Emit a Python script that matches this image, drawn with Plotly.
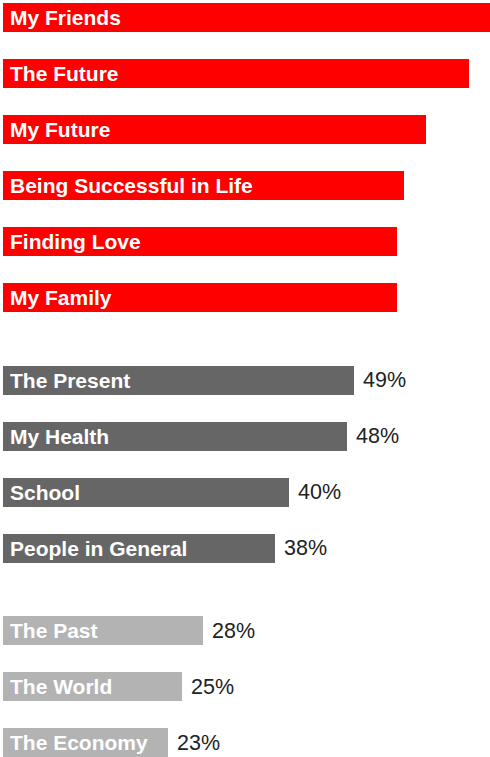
import plotly.graph_objects as go

categories = ["My Friends", "The Future", "My Future", "Being Successful in Life",
              "Finding Love", "My Family",
              "The Present", "My Health", "School", "People in General",
              "The Past", "The World", "The Economy"]
values = [68, 65, 59, 56, 55, 55, 49, 48, 40, 38, 28, 25, 23]
groups = [0, 0, 0, 0, 0, 0, 1, 1, 1, 1, 2, 2, 2]
show_value = [False] * 6 + [True] * 7
group_colors = ["#FF0000", "#666666", "#B3B3B3"]

GAP = 0.47
ypos = [i + GAP * g for i, g in enumerate(groups)]
colors = [group_colors[g] for g in groups]

fig = go.Figure()
fig.add_trace(go.Bar(
    x=values, y=ypos, orientation="h", width=0.518,
    marker=dict(color=colors, line=dict(width=0)),
    hoverinfo="skip", showlegend=False,
))

annotations = []
for c, v, y, s in zip(categories, values, ypos, show_value):
    annotations.append(dict(
        x=0, y=y, xref="x", yref="y", text=f"<b>{c}</b>", showarrow=False,
        xanchor="left", yanchor="middle", xshift=5,
        font=dict(family="Liberation Sans, Arial, sans-serif", size=21, color="white"),
    ))
    if s:
        annotations.append(dict(
            x=v, y=y, xref="x", yref="y", text=f"{v}%", showarrow=False,
            xanchor="left", yanchor="middle", xshift=7,
            font=dict(family="Liberation Sans, Arial, sans-serif", size=21.5, color="#222222"),
        ))

fig.update_layout(
    width=490, height=757,
    margin=dict(l=0, r=0, t=0, b=0),
    plot_bgcolor="white", paper_bgcolor="white",
    xaxis=dict(range=[-0.349, 67.95], visible=False, fixedrange=True),
    yaxis=dict(range=[13.195, -0.3125], visible=False, fixedrange=True),
    annotations=annotations,
    bargap=0,
)

fig.write_html("out.html", config={"displayModeBar": False})
